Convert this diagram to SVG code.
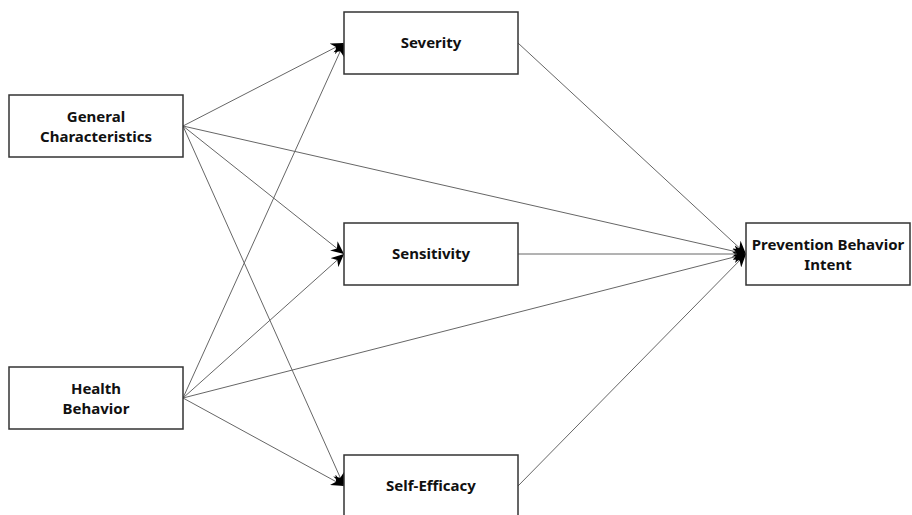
<svg xmlns="http://www.w3.org/2000/svg" width="912" height="515" viewBox="0 0 912 515">
<style>
.box{fill:#fff;stroke:#333;stroke-width:1.5}
.t{font-family:"Noto Sans","Liberation Sans",sans-serif;font-weight:bold;font-size:15px;fill:#111;text-anchor:middle}
.c{stroke:#666;stroke-width:1;fill:none;marker-end:url(#ah)}
</style>
<defs>
<marker id="ah" markerUnits="userSpaceOnUse" markerWidth="14" markerHeight="12" refX="13" refY="6" orient="auto">
<path d="M0,0 L13,6 L0,12 L4,6 Z" fill="#000"/>
</marker>
</defs>
<rect width="912" height="515" fill="#fff"/>
<g id="connectors">
<line class="c" x1="183" y1="126" x2="344" y2="43"/>
<line class="c" x1="183" y1="126" x2="344" y2="254"/>
<line class="c" x1="183" y1="126" x2="344" y2="486"/>
<line class="c" x1="183" y1="126" x2="746" y2="254"/>
<line class="c" x1="183" y1="398" x2="344" y2="43"/>
<line class="c" x1="183" y1="398" x2="344" y2="254"/>
<line class="c" x1="183" y1="398" x2="344" y2="486"/>
<line class="c" x1="183" y1="398" x2="746" y2="254"/>
<line class="c" x1="518" y1="43" x2="746" y2="254"/>
<line class="c" x1="518" y1="254" x2="746" y2="254"/>
<line class="c" x1="518" y1="486" x2="746" y2="254"/>
</g>
<g id="general">
<rect class="box" x="9" y="95" width="174" height="62"/>
<text class="t" x="96" y="122">General</text>
<text class="t" x="96" y="142">Characteristics</text>
</g>
<g id="health">
<rect class="box" x="9" y="367" width="174" height="62"/>
<text class="t" x="96" y="394">Health</text>
<text class="t" x="96" y="414">Behavior</text>
</g>
<g id="severity">
<rect class="box" x="344" y="12" width="174" height="62"/>
<text class="t" x="431" y="48">Severity</text>
</g>
<g id="sensitivity">
<rect class="box" x="344" y="223" width="174" height="62"/>
<text class="t" x="431" y="259">Sensitivity</text>
</g>
<g id="selfefficacy">
<rect class="box" x="344" y="455" width="174" height="62"/>
<text class="t" x="431" y="491">Self-Efficacy</text>
</g>
<g id="prevention">
<rect class="box" x="746" y="223" width="164" height="62"/>
<text class="t" x="828" y="250">Prevention Behavior</text>
<text class="t" x="828" y="270">Intent</text>
</g>
</svg>
